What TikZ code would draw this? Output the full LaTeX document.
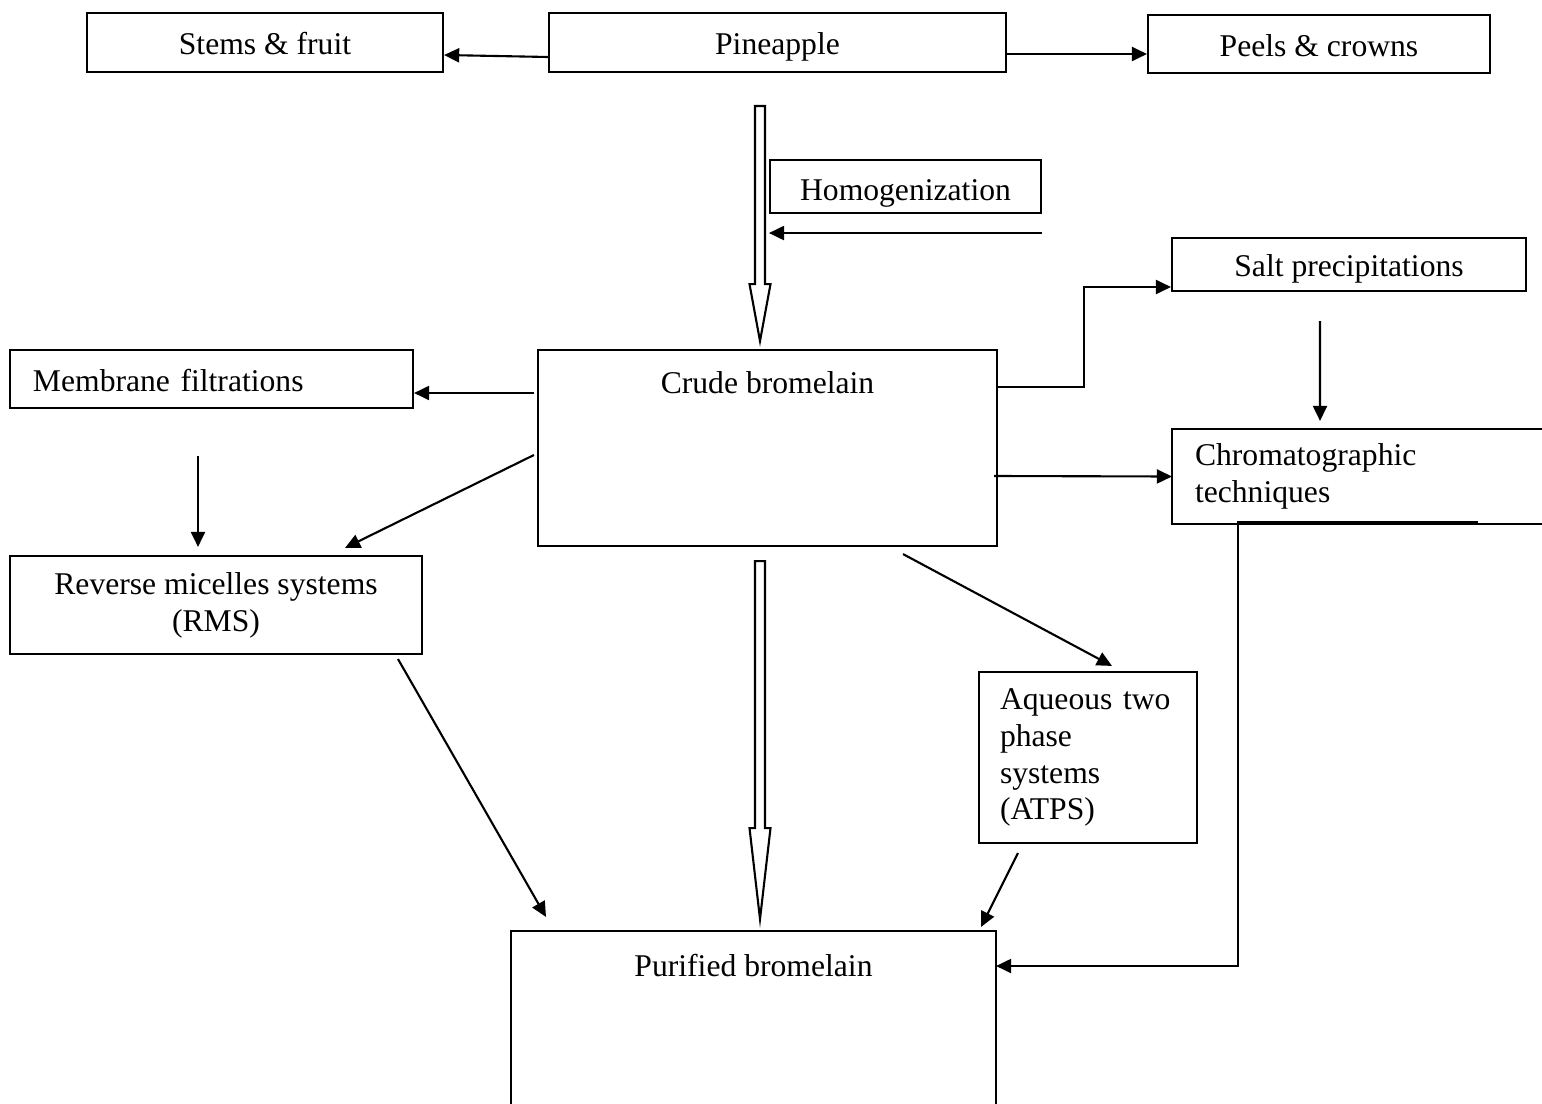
\documentclass[tikz,border=0pt]{standalone}
\usepackage{fontspec}
\setmainfont{Liberation Serif}
\usetikzlibrary{arrows.meta}

\newcommand{\hollowarrow}[3]{%
  \draw #1 ++(-0.05,0) -- ++(0,-#2) -- ++(-0.055,0) -- ++(0.105,-#3)
    -- ++(0.105,#3) -- ++(-0.055,0) -- ++(0,#2) -- cycle;}

\begin{document}
\begin{tikzpicture}[
    line width=0.6pt,
    every node/.style={font=\fontsize{9pt}{10.5pt}\selectfont},
    box/.style={draw, inner sep=0pt},
    openbox/.style={inner sep=0pt},
    oneline/.style={text height=7.4pt, text depth=0.4pt},
    arr/.style={-{Triangle[length=4.3pt,width=4pt]}}
  ]
  \useasboundingbox (0,0) rectangle (15.42,-11.03);
  \draw
    (2.65,-0.425) node[box, oneline, minimum width=3.56cm, minimum height=0.59cm] (stems){Stems \& fruit}
    (7.775,-0.425) node[box, oneline, minimum width=4.57cm, minimum height=0.59cm] (pine){Pineapple}
    (13.19,-0.44) node[box, oneline, minimum width=3.42cm, minimum height=0.58cm] (peels){Peels \& crowns}
    (9.055,-1.865) node[box, text height=8pt, text depth=0.3pt, minimum width=2.71cm,
      minimum height=0.53cm] (homog){Homogenization}
    (13.49,-2.645) node[box, oneline, minimum width=3.54cm, minimum height=0.53cm] (salt){Salt precipitations}
    (2.115,-3.79) node[box, oneline, minimum width=4.03cm, minimum height=0.58cm, inner xsep=0.23cm,
      text width=3.57cm, align=left] (memb){Membrane filtrations}
    (7.675,-4.48) node[box, minimum width=4.59cm, minimum height=1.96cm,
      label={[below=0.1cm]north:Crude bromelain}] (crude){}
    (13.575,-4.765) node[openbox, minimum width=3.69cm, minimum height=0.93cm, inner xsep=0.22cm,
      text width=3.25cm, align=left] (chrom){Chromatographic\\techniques}
    (2.16,-6.05) node[box, minimum width=4.12cm, minimum height=0.98cm,
      align=center] (rms){Reverse micelles systems\\(RMS)}
    (10.88,-7.575) node[box, minimum width=2.18cm, minimum height=1.71cm, inner xsep=0.21cm,
      text width=1.76cm, align=left] (atps){Aqueous two\\phase\\systems\\(ATPS)}
    (7.535,-10.175) node[openbox, minimum width=4.83cm, minimum height=1.71cm,
      label={[below=0.1cm]north:Purified bromelain}] (pur){};
  \draw (chrom.north east) -- (chrom.north west) -- (chrom.south west) -- (chrom.south east);
  \draw (pur.south west) -- (pur.north west) -- (pur.north east) -- (pur.south east);
  \hollowarrow{([shift={(-0.175,-0.33)}]pine.south)}{1.78}{0.57}
  \hollowarrow{([shift={(-0.075,-0.14)}]crude.south)}{2.67}{0.91}
  \begin{scope}[arr]
    \draw ([yshift=-0.145cm]pine.west) to ([yshift=-0.125cm]stems.east);
    \draw ([shift={(-0.02,-0.115)}]pine.east) to ([yshift=-0.1cm]peels.west);
    \draw ([yshift=-0.19cm]homog.south east) to ([yshift=-0.19cm]homog.south west);
    \draw ([yshift=0.61cm]crude.east) -- ++(0.86,0) |- ([yshift=-0.225cm]salt.west);
    \draw ([shift={(-0.29,-0.29)}]salt.south) to ([shift={(-0.375,0.08)}]chrom.north);
    \draw ([shift={(-0.04,-0.28)}]crude.east) to (chrom.west);
    \draw ([shift={(-0.03,0.55)}]crude.west) to ([yshift=-0.14cm]memb.east);
    \draw ([shift={(-0.135,-0.47)}]memb.south) to ([shift={(-0.18,0.08)}]rms.north);
    \draw ([shift={(-0.03,-0.07)}]crude.west) to ([shift={(1.29,0.07)}]rms.north);
    \draw ([shift={(1.355,-0.07)}]crude.south) to ([shift={(0.24,0.05)}]atps.north);
    \draw ([shift={(1.82,-0.04)}]rms.south) to ([shift={(-2.075,0.14)}]pur.north);
    \draw ([shift={(-0.7,-0.09)}]atps.south) to ([shift={(2.275,0.04)}]pur.north);
    \draw ([shift={(1.205,0.02)}]chrom.south) -- ([shift={(-1.195,0.02)}]chrom.south)
      |- ([yshift=0.515cm]pur.east);
  \end{scope}
\end{tikzpicture}
\end{document}
